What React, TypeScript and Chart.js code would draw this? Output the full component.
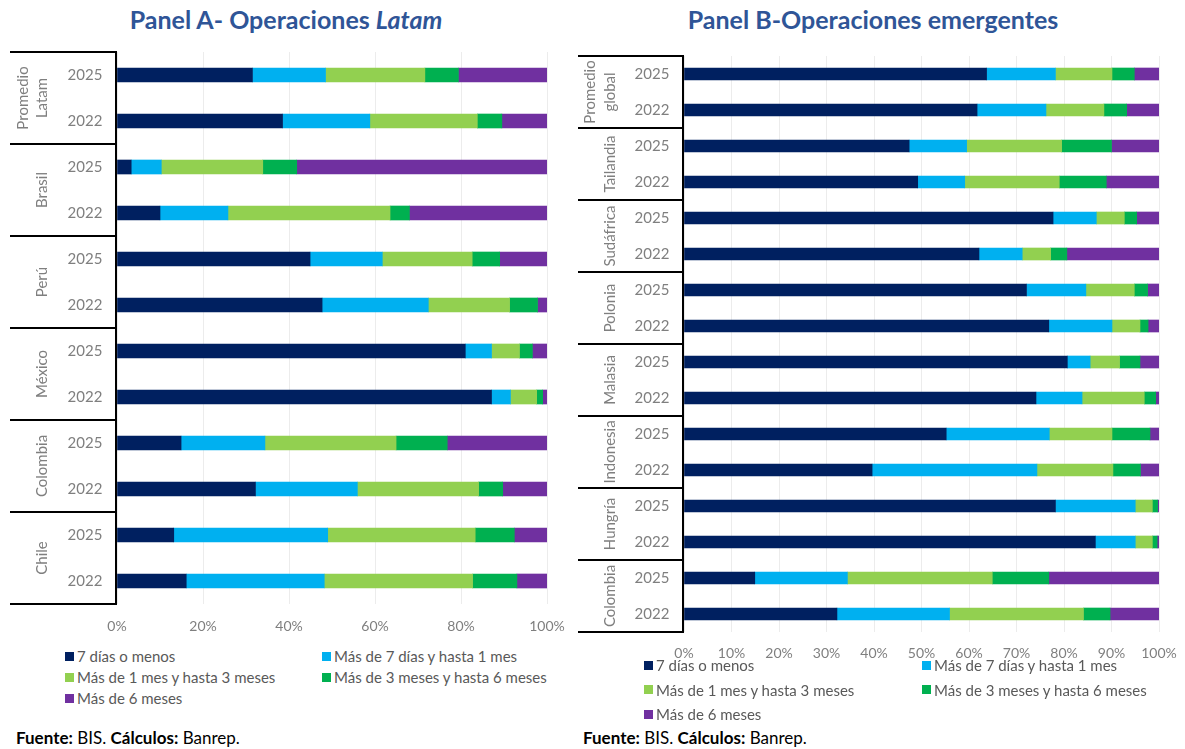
import React, { useEffect, useRef } from "react";
import { Chart, registerables } from "chart.js";

Chart.register(...registerables);

// ---------- DATA ----------
const SERIES_NAMES = [
  "7 días o menos",
  "Más de 7 días y hasta 1 mes",
  "Más de 1 mes y hasta 3 meses",
  "Más de 3 meses y hasta 6 meses",
  "Más de 6 meses",
];
const COLORS = ["#002060", "#00B0F0", "#92D050", "#00B050", "#7030A0"];
const YEARS = ["2025", "2022"];

// Panel A (Latam) groups, top to bottom
const A_GROUPS = [["Promedio", "Latam"], ["Brasil"], ["Perú"], ["México"], ["Colombia"], ["Chile"]];
const A_D7 = [31.5, 38.5, 3.3, 10.0, 44.9, 47.7, 81.0, 87.1, 14.9, 32.2, 13.2, 16.1];
const A_M1 = [17.0, 20.3, 7.0, 15.8, 16.8, 24.7, 6.1, 4.4, 19.5, 23.7, 35.8, 32.1];
const A_M3 = [23.1, 25.0, 23.6, 37.7, 20.9, 18.9, 6.5, 6.1, 30.5, 28.2, 34.3, 34.5];
const A_M6 = [7.8, 5.7, 7.9, 4.5, 6.4, 6.5, 3.0, 1.4, 11.9, 5.6, 9.1, 10.3];
const A_GT6 = [20.6, 10.5, 58.2, 32.0, 11.0, 2.2, 3.4, 1.0, 23.2, 10.3, 7.6, 7.0];

// Panel B (emergentes) groups, top to bottom
const B_GROUPS = [["Promedio", "global"], ["Tailandia"], ["Sudáfrica"], ["Polonia"], ["Malasia"], ["Indonesia"], ["Hungría"], ["Colombia"]];
const B_D7 = [63.7, 61.7, 47.4, 49.2, 77.7, 62.1, 72.1, 76.8, 80.7, 74.1, 55.2, 39.6, 78.2, 86.6, 14.9, 32.2];
const B_M1 = [14.5, 14.5, 12.1, 9.9, 9.1, 9.1, 12.5, 13.3, 4.8, 9.7, 21.7, 34.7, 16.8, 8.4, 19.5, 23.7];
const B_M3 = [11.9, 12.2, 20.0, 19.9, 5.9, 6.0, 10.2, 5.9, 6.2, 13.1, 13.2, 16.0, 3.6, 3.6, 30.5, 28.2];
const B_M6 = [4.7, 4.8, 10.5, 9.9, 2.6, 3.4, 2.8, 1.7, 4.3, 2.4, 8.0, 5.8, 1.1, 1.0, 11.9, 5.6];
const B_GT6 = [5.2, 6.8, 10.0, 11.1, 4.7, 19.4, 2.4, 2.3, 4.0, 0.7, 1.9, 3.9, 0.3, 0.4, 23.2, 10.3];

const A_TICK_STEP = 20;
const B_TICK_STEP = 10;

const FONT = "Lato, 'Noto Sans', sans-serif";
const GRAY = "#7F7F7F";

type TableCfg = { lineLeft: number; groupX: number; gap: number; yearX: number };

function tablePlugin(groups: string[][], cfg: TableCfg) {
  return {
    id: "tableLabels",
    afterDraw(chart: any) {
      const { ctx, chartArea, scales } = chart;
      const y = scales.y;
      const labels = chart.data.labels as string[];
      const n = labels.length;
      const band = (chartArea.bottom - chartArea.top) / n;
      ctx.save();
      ctx.fillStyle = GRAY;
      ctx.font = `15px ${FONT}`;
      ctx.textAlign = "center";
      ctx.textBaseline = "middle";
      for (let i = 0; i < n; i++) {
        ctx.fillText(labels[i], cfg.yearX, y.getPixelForValue(i));
      }
      ctx.strokeStyle = "#000";
      ctx.lineWidth = 2;
      const per = n / groups.length;
      for (let g = 0; g <= groups.length; g++) {
        const yy = Math.round(chartArea.top + g * per * band);
        ctx.beginPath();
        ctx.moveTo(cfg.lineLeft, yy);
        ctx.lineTo(chartArea.left, yy);
        ctx.stroke();
      }
      ctx.beginPath();
      ctx.moveTo(chartArea.left - 1, chartArea.top - 1);
      ctx.lineTo(chartArea.left - 1, chartArea.bottom + 1);
      ctx.stroke();
      ctx.font = `15px ${FONT}`;
      groups.forEach((lines, g) => {
        const cy = chartArea.top + (g * per + per / 2) * band;
        lines.forEach((line, j) => {
          const x = cfg.groupX - (lines.length - 1 - j) * cfg.gap;
          ctx.save();
          ctx.translate(x, cy);
          ctx.rotate(-Math.PI / 2);
          ctx.fillText(line, 0, 0);
          ctx.restore();
        });
      });
      ctx.restore();
    },
  };
}

function makeConfig(
  groups: string[][],
  series: number[][],
  step: number,
  barThickness: number,
  padding: { left: number; right: number; top: number },
  axisHeight: number,
  tickPad: number,
  cfg: TableCfg
): any {
  const labels: string[] = [];
  groups.forEach(() => YEARS.forEach((yr) => labels.push(yr)));
  return {
    type: "bar",
    data: {
      labels,
      datasets: series.map((d, i) => ({
        label: SERIES_NAMES[i],
        data: d,
        backgroundColor: COLORS[i],
        borderWidth: 0,
        barThickness,
      })),
    },
    options: {
      indexAxis: "y",
      responsive: false,
      animation: false,
      devicePixelRatio: 1,
      layout: { padding },
      plugins: { legend: { display: false }, tooltip: { enabled: false } },
      scales: {
        x: {
          stacked: true,
          min: 0,
          max: 100,
          border: { display: false },
          grid: { color: "#ECECEC", lineWidth: 1, drawTicks: false },
          ticks: {
            stepSize: step,
            padding: tickPad,
            color: GRAY,
            font: { family: FONT, size: 14 },
            callback: (v: any) => v + "%",
          },
          afterFit: (s: any) => {
            s.height = axisHeight;
            s.paddingLeft = 0;
            s.paddingRight = 0;
          },
        },
        y: { stacked: true, display: false },
      },
    },
    plugins: [tablePlugin(groups, cfg)],
  };
}

function Legend({ left, top, colX, rowH }: { left: number; top: number; colX: number; rowH: number }) {
  return (
    <>
      {SERIES_NAMES.map((name, i) => {
        const col = i % 2;
        const row = Math.floor(i / 2);
        return (
          <div
            key={name}
            style={{
              position: "absolute",
              left: left + col * colX,
              top: top + row * rowH,
              display: "flex",
              alignItems: "center",
              fontFamily: FONT,
              fontSize: 15,
              color: "#595959",
              whiteSpace: "nowrap",
              lineHeight: "18px",
            }}
          >
            <span style={{ display: "inline-block", width: 9, height: 9, background: COLORS[i], marginRight: 3 }} />
            {name}
          </div>
        );
      })}
    </>
  );
}

export default function App() {
  const refA = useRef<HTMLCanvasElement>(null);
  const refB = useRef<HTMLCanvasElement>(null);

  useEffect(() => {
    const chA = new Chart(
      refA.current as HTMLCanvasElement,
      makeConfig(
        A_GROUPS,
        [A_D7, A_M1, A_M3, A_M6, A_GT6],
        A_TICK_STEP,
        14,
        { left: 117, right: 28, top: 52 },
        36,
        14,
        { lineLeft: 10, groupX: 42, gap: 19, yearX: 85 }
      )
    );
    const chB = new Chart(
      refB.current as HTMLCanvasElement,
      makeConfig(
        B_GROUPS,
        [B_D7, B_M1, B_M3, B_M6, B_GT6],
        B_TICK_STEP,
        12,
        { left: 109, right: 26, top: 56 },
        48,
        13,
        { lineLeft: 3, groupX: 35, gap: 20, yearX: 77 }
      )
    );
    return () => {
      chA.destroy();
      chB.destroy();
    };
  }, []);

  const titleStyle: React.CSSProperties = {
    position: "absolute",
    top: 4,
    fontFamily: FONT,
    fontWeight: 700,
    fontSize: 25,
    color: "#2F5597",
    textAlign: "center",
    whiteSpace: "nowrap",
    lineHeight: "30px",
  };
  const footStyle: React.CSSProperties = {
    position: "absolute",
    top: 728,
    fontFamily: FONT,
    fontSize: 17,
    color: "#000",
    whiteSpace: "nowrap",
    lineHeight: "20px",
  };

  return (
    <div style={{ position: "absolute", left: 0, top: 0, width: 1185, height: 749, background: "#fff", overflow: "hidden" }}>
      <div style={{ ...titleStyle, left: 0, width: 572 }}>
        Panel A- Operaciones <i>Latam</i>
      </div>
      <div style={{ ...titleStyle, left: 575, width: 596 }}>Panel B-Operaciones emergentes</div>
      <canvas ref={refA} width={575} height={640} style={{ position: "absolute", left: 0, top: 0, width: 575, height: 640 }} />
      <canvas ref={refB} width={610} height={680} style={{ position: "absolute", left: 575, top: 0, width: 610, height: 680 }} />
      <Legend left={65} top={647} colX={257} rowH={21} />
      <Legend left={644} top={656} colX={278} rowH={24.5} />
      <div style={{ ...footStyle, left: 16 }}>
        <b>Fuente:</b> BIS. <b>Cálculos:</b> Banrep.
      </div>
      <div style={{ ...footStyle, left: 583 }}>
        <b>Fuente:</b> BIS. <b>Cálculos:</b> Banrep.
      </div>
    </div>
  );
}
